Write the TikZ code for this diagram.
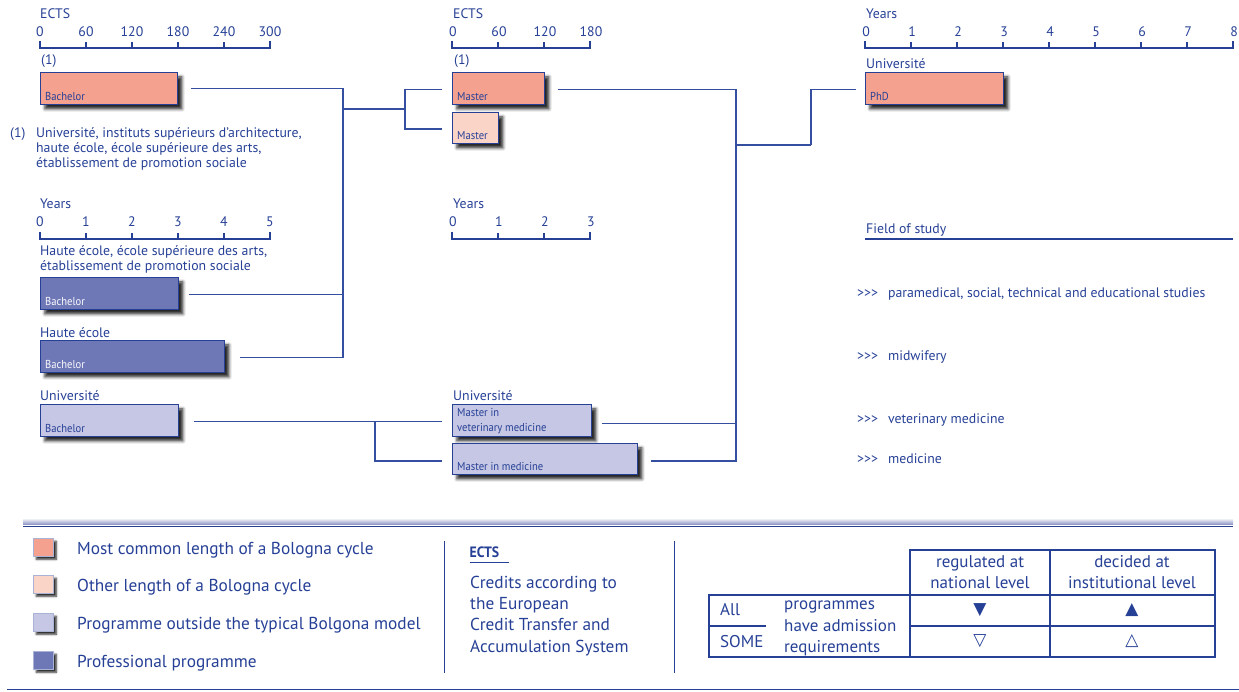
\documentclass[tikz,border=0pt]{standalone}
\usepackage{fontspec}
\setmainfont{PT Sans}
\newfontfamily\condfont[FakeStretch=0.92]{PT Sans}
\newfontfamily\symfont{DejaVu Sans}
\usetikzlibrary{positioning, shadows.blur}
\definecolor{ebtext}{RGB}{38,64,150}
\definecolor{ebline}{RGB}{52,78,160}
\definecolor{shadowblue}{RGB}{28,52,160}
\definecolor{salmon}{RGB}{244,161,144}
\definecolor{salmonpale}{RGB}{251,212,200}
\definecolor{lavender}{RGB}{198,199,228}
\definecolor{profblue}{RGB}{111,120,182}
\tikzstyle{cyclebox} = [rectangle, anchor=north west,
minimum height=32pt,
draw=ebtext, line width=0.9pt,
blur shadow={shadow xshift=4.5pt, shadow yshift=-4.5pt, shadow blur radius=3pt, shadow opacity=85, fill=shadowblue}]
\tikzstyle{keybox} = [rectangle, anchor=north west,
minimum width=20pt, minimum height=18pt,
draw=ebtext!40, line width=0.5pt,
blur shadow={shadow xshift=3pt, shadow yshift=-3pt, shadow blur radius=2pt, shadow opacity=85, fill=shadowblue}]
\tikzstyle{boxtext} = [anchor=base west, font=\condfont\fontsize{11.5}{15.5}\selectfont, align=left]
\tikzstyle{smalltext} = [anchor=base west, font=\fontsize{13.8}{15}\selectfont, align=left]
\tikzstyle{keytext} = [anchor=base west, font=\fontsize{17.3}{21.3}\selectfont, align=left]
\tikzstyle{tabtext} = [font=\fontsize{17}{21}\selectfont, align=center]
\tikzstyle{link} = [draw=ebline, line width=1.1pt]

\begin{document}
\begin{tikzpicture}[x=1pt, y=-1pt, color=ebtext, text=ebtext, every node/.append style={inner sep=0pt}]
        \useasboundingbox (0,0) rectangle (1239,691);

        % ECTS scale, first cycle
        \node (ectsA) [smalltext] at (40,18) {ECTS};
        \foreach \v [count=\i from 0] in {0,60,...,300}
          \node (ectsA\i) [smalltext, anchor=base] at (40+46*\i,36) {\v};
        \draw [line width=1.1pt] (40,41) -- (40,48) -- (270,48) -- (270,41);
        \foreach \i in {1,...,4} \draw [line width=1.1pt] (40+46*\i,42) -- (40+46*\i,48);
        \node (mark1) [smalltext] at (41,64) {(1)};
        \node (bachA) [cyclebox, fill=salmon, minimum width=137pt] at (40,72) {};
        \node (bachAt) [boxtext] at ([xshift=5pt, yshift=4pt]bachA.south west) {Bachelor};

        \node (note1) [smalltext] at (10,137) {(1)};
        \node (note) [smalltext] at (36,167) {Université, instituts supérieurs d’architecture,\\haute école, école supérieure des arts,\\établissement de promotion sociale};

        % years scale, first cycle
        \node (yearsA) [smalltext] at (40,208) {Years};
        \foreach \v in {0,...,5}
          \node (yearsA\v) [smalltext, anchor=base] at (40+46*\v,226) {\v};
        \draw [line width=1.1pt] (40,232) -- (40,239) -- (270,239) -- (270,232);
        \foreach \i in {1,...,4} \draw [line width=1.1pt] (40+46*\i,233) -- (40+46*\i,239);
        \node (hauteA) [smalltext] at (40,270) {Haute école, école supérieure des arts,\\établissement de promotion sociale};
        \node (bachP) [cyclebox, fill=profblue, minimum width=138pt] at (40,277) {};
        \node (bachPt) [boxtext, text=white!92!lavender] at ([xshift=5pt, yshift=4pt]bachP.south west) {Bachelor};
        \node (hauteB) [smalltext] at (40,337) {Haute école};
        \node (bachH) [cyclebox, fill=profblue, minimum width=184pt] at (40,340) {};
        \node (bachHt) [boxtext, text=white!92!lavender] at ([xshift=5pt, yshift=4pt]bachH.south west) {Bachelor};
        \node (univA) [smalltext] at (40,400) {Université};
        \node (bachU) [cyclebox, fill=lavender, minimum width=138pt] at (40,404) {};
        \node (bachUt) [boxtext] at ([xshift=5pt, yshift=4pt]bachU.south west) {Bachelor};

        % ECTS scale, second cycle
        \node (ectsB) [smalltext] at (453,18) {ECTS};
        \foreach \v [count=\i from 0] in {0,60,...,180}
          \node (ectsB\i) [smalltext, anchor=base] at (453+46*\i,36) {\v};
        \draw [line width=1.1pt] (452,41) -- (452,48) -- (590,48) -- (590,41);
        \foreach \i in {1,2} \draw [line width=1.1pt] (452+46*\i,42) -- (452+46*\i,48);
        \node (mark2) [smalltext] at (454,64) {(1)};
        \node (masA) [cyclebox, fill=salmon, minimum width=92pt] at (452,72) {};
        \node (masAt) [boxtext] at ([xshift=5pt, yshift=4pt]masA.south west) {Master};
        \node (masB) [cyclebox, fill=salmonpale, minimum width=46pt, minimum height=31pt] at (452,112) {};
        \node (masBt) [boxtext] at ([xshift=5pt, yshift=4pt]masB.south west) {Master};

        % years scale, second cycle
        \node (yearsB) [smalltext] at (453,208) {Years};
        \foreach \v in {0,...,3}
          \node (yearsB\v) [smalltext, anchor=base] at (453+46*\v,226) {\v};
        \draw [line width=1.1pt] (452,232) -- (452,239) -- (590,239) -- (590,232);
        \foreach \i in {1,2} \draw [line width=1.1pt] (452+46*\i,233) -- (452+46*\i,239);
        \node (univB) [smalltext] at (453,400) {Université};
        \node (vet) [cyclebox, fill=lavender, minimum width=139pt] at (452,404) {};
        \node (vett) [boxtext] at ([xshift=5pt, yshift=5pt]vet.south west) {Master in\\veterinary medicine};
        \node (med) [cyclebox, fill=lavender, minimum width=185pt, minimum height=31pt] at (452,443) {};
        \node (medt) [boxtext] at ([xshift=5pt, yshift=4pt]med.south west) {Master in medicine};

        % years scale, third cycle
        \node (yearsC) [smalltext] at (866,18) {Years};
        \foreach \v in {0,...,8}
          \node (yearsC\v) [smalltext, anchor=base] at (866+46*\v,36) {\v};
        \draw [line width=1.1pt] (865,41) -- (865,48) -- (1233,48) -- (1233,41);
        \foreach \i in {1,...,7} \draw [line width=1.1pt] (865+46*\i,42) -- (865+46*\i,48);
        \node (univC) [smalltext] at (866,68) {Université};
        \node (phd) [cyclebox, fill=salmon, minimum width=138pt] at (865,72) {};
        \node (phdt) [boxtext] at ([xshift=5pt, yshift=4pt]phd.south west) {PhD};

        % fields of study
        \node (field) [smalltext] at (866,233) {Field of study};
        \draw [line width=1.1pt] (865,239) -- (1233,239);
        \node (fieldA) [smalltext] at (857,297) {>{}>{}>\hspace{10pt}paramedical, social, technical and educational studies};
        \node (fieldB) [smalltext] at (857,360) {>{}>{}>\hspace{10pt}midwifery};
        \node (fieldC) [smalltext] at (857,423) {>{}>{}>\hspace{10pt}veterinary medicine};
        \node (fieldD) [smalltext] at (857,463) {>{}>{}>\hspace{10pt}medicine};

        % links
        \coordinate (spineL) at (343,109);
        \coordinate (forkM) at (405,109);
        \coordinate (forkU) at (375,421);
        \coordinate (spineR) at (736,145);
        \coordinate (forkP) at (811,145);
        \draw [link] ([xshift=13pt]bachA.east) -| (spineL);
        \draw [link] ([xshift=10pt, yshift=-1pt]bachP.east) -| (spineL);
        \draw [link] ([xshift=15pt, yshift=-1pt]bachH.east) -| (spineL);
        \draw [link] (spineL) -- (forkM);
        \draw [link] (forkM) |- ([xshift=-10pt, yshift=-1pt]masA.west);
        \draw [link] (forkM) |- ([xshift=-10pt, yshift=-1pt]masB.west);
        \draw [link] ([xshift=15pt, yshift=-1pt]bachU.east) -- ([xshift=-10pt, yshift=-1pt]vet.west);
        \draw [link] (forkU) |- ([xshift=-10pt, yshift=-2pt]med.west);
        \draw [link] ([xshift=13pt, yshift=-1pt]masA.east) -| (spineR);
        \draw [link] ([xshift=10pt, yshift=-3pt]vet.east) -| (spineR);
        \draw [link] ([xshift=13pt, yshift=-2pt]med.east) -| (spineR);
        \draw [link] (spineR) -- (forkP);
        \draw [link] (forkP) |- ([xshift=-9pt, yshift=-1pt]phd.west);

        % key
        \shade [top color=white, bottom color=profblue!80] (23,518) rectangle (1233,524.5);
        \draw [line width=1.2pt] (23,526.5) -- (1233,526.5);
        \draw [line width=1.2pt] (7,689.5) -- (1239,689.5);
        \node (keyA) [keybox, fill=salmon] at (33,538) {};
        \node (keyAt) [keytext] at (77,554) {Most common length of a Bologna cycle};
        \node (keyB) [keybox, fill=salmonpale] at (33,575) {};
        \node (keyBt) [keytext] at (77,591) {Other length of a Bologna cycle};
        \node (keyC) [keybox, fill=lavender] at (33,613) {};
        \node (keyCt) [keytext] at (77,629) {Programme outside the typical Bolgona model};
        \node (keyD) [keybox, fill=profblue] at (33,651) {};
        \node (keyDt) [keytext] at (77,667) {Professional programme};

        \draw [line width=1.3pt] (444.5,541) -- (444.5,673);
        \draw [line width=1.3pt] (674.5,541) -- (674.5,673);
        \node (ectsKey) [keytext, font=\condfont\bfseries\fontsize{15}{16}\selectfont] at (469.5,557.5) {ECTS};
        \draw [line width=1.1pt] ([yshift=-5pt]ectsKey.base west) -- ++(39,0);
        \node (ectsDef) [keytext] at (470,652) {Credits according to\\the European\\Credit Transfer and\\Accumulation System};

        % admission table
        \draw [line width=1.2pt] (910,595) -- (910,550) -- (1215,550) -- (1215,657) -- (709,657) -- (709,595) -- cycle;
        \draw [line width=1.2pt] (910,595) -- (1215,595);
        \draw [line width=1.2pt] (910,595) -- (910,657);
        \draw [line width=1.2pt] (1050,550) -- (1050,657);
        \draw [line width=1.2pt] (709,626) -- (766,626);
        \draw [line width=1.2pt] (910,626) -- (1215,626);
        \node (natHead) [tabtext] at (980,572) {regulated at\\national level};
        \node (instHead) [tabtext] at (1132,572) {decided at\\institutional level};
        \node (rowAll) [keytext, font=\fontsize{17}{21}\selectfont] at (720,615) {All};
        \node (rowSome) [keytext, font=\fontsize{17}{21}\selectfont] at (720,647) {SOME};
        \node (rowText) [keytext, font=\fontsize{17}{21.3}\selectfont] at (784,652.5) {programmes\\have admission\\requirements};
        \node (allNat) [tabtext, font=\symfont\fontsize{17}{17}\selectfont] at (980,610) {▼};
        \node (allInst) [tabtext, font=\symfont\fontsize{17}{17}\selectfont] at (1132,610) {▲};
        \node (someNat) [tabtext, font=\symfont\fontsize{17}{17}\selectfont] at (980,641) {▽};
        \node (someInst) [tabtext, font=\symfont\fontsize{17}{17}\selectfont] at (1132,641) {△};
    \end{tikzpicture}
\end{document}
